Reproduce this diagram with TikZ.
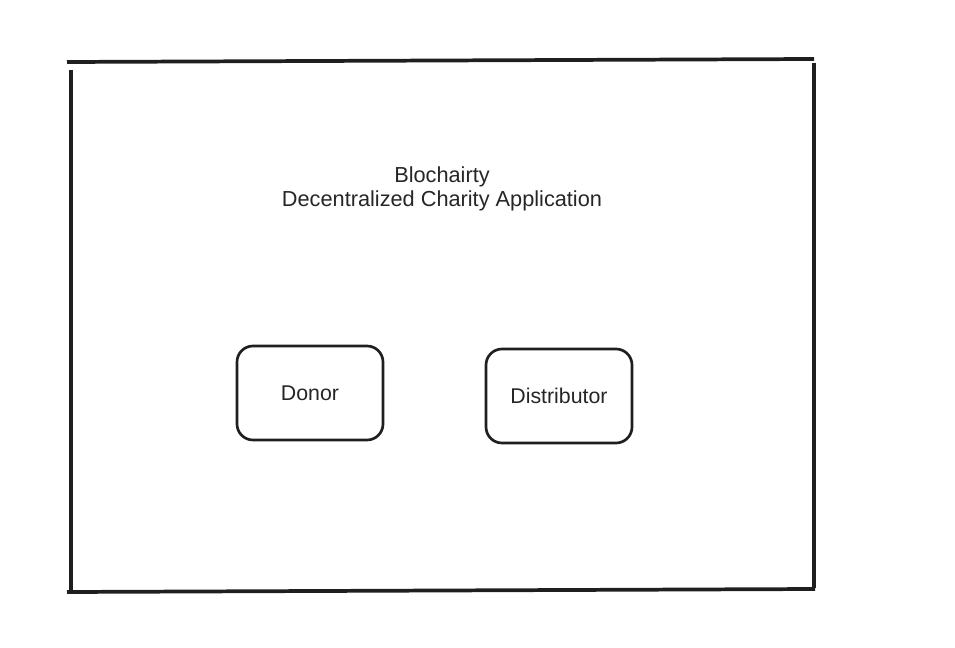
\documentclass[tikz,border=0pt]{standalone}
\usepackage{fontspec}
\setmainfont{Liberation Sans}
\usetikzlibrary{positioning}

\begin{document}
\begin{tikzpicture}[x=0.75pt, y=-0.75pt]
        \useasboundingbox (0,0) rectangle (955,648);

        % frame strokes
        \coordinate (top-left) at (67,62);
        \coordinate (top-right) at (814,59);
        \coordinate (left-top) at (71,70);
        \coordinate (left-bottom) at (71,592);
        \coordinate (bottom-left) at (67,592);
        \coordinate (bottom-right) at (815,589);
        \coordinate (right-top) at (814,63);
        \coordinate (right-bottom) at (814,588);

        \draw[line width=2.8pt, black!88] (top-left) -- (top-right);
        \draw[line width=2.8pt, black!88] (left-top) -- (left-bottom);
        \draw[line width=2.8pt, black!88] (bottom-left) -- (bottom-right);
        \draw[line width=2.8pt, black!88] (right-top) -- (right-bottom);

        \node (title) at (442,189)[align=center, font=\fontsize{16.3}{18}\selectfont, text=black!85] {Blochairty\\Decentralized Charity Application};

        \node (donor) at (310,393)[draw=black!88, line width=2pt, rounded corners=12pt, minimum width=109.5pt, minimum height=70.5pt, font=\fontsize{16}{18}\selectfont, text=black!85] {Donor};
        \node (distributor) at (559,396)[draw=black!88, line width=2pt, rounded corners=12pt, minimum width=109.5pt, minimum height=70.5pt, font=\fontsize{16}{18}\selectfont, text=black!85] {Distributor};
    \end{tikzpicture}
\end{document}
